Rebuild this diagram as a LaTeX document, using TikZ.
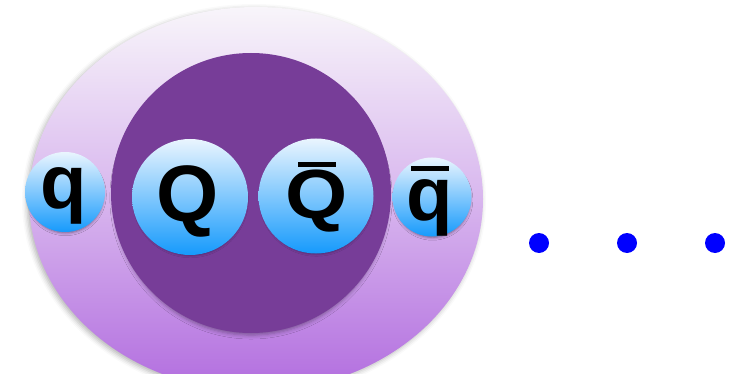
\documentclass[tikz,border=0pt]{standalone}
\usepackage{fontspec}
\setmainfont{Liberation Sans}
\usetikzlibrary{shapes.geometric,shadows.blur}
\definecolor{outtop}{HTML}{F8F5FA}
\definecolor{outmid}{HTML}{D8B6EE}
\definecolor{outbot}{HTML}{B26DDF}
\definecolor{inner}{HTML}{773D98}
\definecolor{sphtop}{HTML}{EAF5FE}
\definecolor{sphmid}{HTML}{8ECBF9}
\definecolor{sphbot}{HTML}{169AFC}
\definecolor{dotblue}{HTML}{0000FF}
\newcommand{\barred}[3]{\leavevmode\setbox0\hbox{#1}\rlap{\hbox to \wd0{\hss\raisebox{#2}{\rule{#3}{5pt}}\hss}}\box0}
\tikzset{
  outerblob/.style={ellipse, inner sep=0pt, minimum width=454pt, minimum height=384pt,
     top color=outtop, bottom color=outbot, middle color=outmid,
     blur shadow={shadow xshift=-2pt, shadow yshift=-2pt, shadow blur radius=5pt, shadow opacity=30}},
  innerblob/.style={circle, inner sep=0pt, minimum size=280pt, fill=inner,
     blur shadow={shadow xshift=0pt, shadow yshift=-5pt, shadow scale=0.98, shadow blur radius=4pt, shadow opacity=35}},
  sphere/.style={circle, inner sep=0pt, minimum size=#1,
     top color=sphtop, middle color=sphmid, bottom color=sphbot,
     blur shadow={shadow xshift=0.5pt, shadow yshift=-3pt, shadow scale=0.95, shadow blur radius=3pt, shadow opacity=45}},
  letter/.style={inner sep=0pt, anchor=base, font=\bfseries\fontsize{#1}{#1}\selectfont},
  dotmark/.style={circle, inner sep=0pt, minimum size=20pt, fill=dotblue}
}
\begin{document}
\begin{tikzpicture}[x=1pt,y=-1pt]
\useasboundingbox (0,0) rectangle (738,374);
\begin{scope}
\clip (0,0) rectangle (738,374);
\node[outerblob] (outer) at (256,199) {};
\end{scope}
\node[innerblob] (core) at (251,193) {};
\node[sphere=80pt] (s1) at (65,192) {};
\node[sphere=116pt] (s2) at (190,197) {};
\node[sphere=115pt] (s3) at (316,196) {};
\node[sphere=79pt] (s4) at (432,197) {};
\node[letter=76] (l1) at (64,208) {q};
\node[letter=80] (l2) at (188,221) {Q};
\node[letter=80] (l3) at (317,218) {\barred{\scalebox{1}[0.87]{Q}}{51pt}{38pt}};
\node[letter=76] (l4) at (430,220) {\barred{q}{49pt}{38pt}};
\node[dotmark] (d1) at (539,243) {};
\node[dotmark] (d2) at (627,243) {};
\node[dotmark] (d3) at (715,243) {};
\end{tikzpicture}
\end{document}
